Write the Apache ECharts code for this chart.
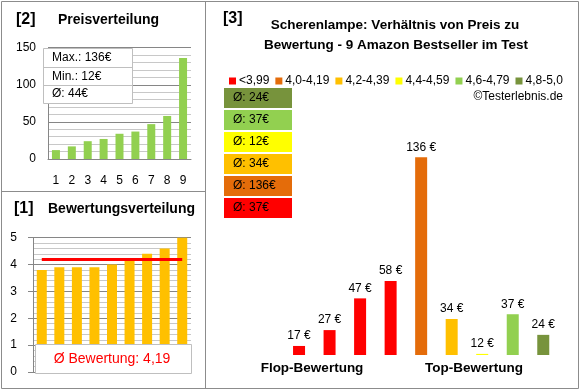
<!DOCTYPE html>
<html><head><meta charset="utf-8">
<script src="https://cdn.jsdelivr.net/npm/echarts@6/dist/echarts.min.js"></script>
<style>html,body{margin:0;padding:0;background:#fff}#c{width:580px;height:390px}</style>
</head><body><div id="c"></div>
<script>
// Panel [2] Preisverteilung
const priceCats = ['1','2','3','4','5','6','7','8','9'];
const priceValues = [12,17,24,27,34,37,47,58,136];
const priceInfo = ['Max.: 136€','Min.: 12€','Ø: 44€'];
// Panel [1] Bewertungsverteilung
const ratingCats = ['1','2','3','4','5','6','7','8','9'];
const ratingValues = [3.8,3.9,3.9,3.9,4.0,4.2,4.4,4.6,5.0];
const ratingAvg = 4.19;
const ratingAvgLabel = 'Ø Bewertung: 4,19';
// Panel [3] Preis zu Bewertung
const mainCats = ['a','b','c','d','e','f','g','h','i'];
const mainValues = [17,27,47,58,136,34,12,37,24];
const mainGroups = [0,0,0,0,1,2,3,4,5];
const groupNames = ['<3,99','4,0-4,19','4,2-4,39','4,4-4,59','4,6-4,79','4,8-5,0'];
const groupColors = ['#FF0000','#E46C0A','#FFC000','#FFFF00','#92D050','#77933C'];
const groupAvgLabels = ['Ø: 37€','Ø: 136€','Ø: 34€','Ø: 12€','Ø: 37€','Ø: 24€'];

const FONT = 'Liberation Sans, Arial, sans-serif';
const chart = echarts.init(document.getElementById('c'));

const graphics = [];
// borders
graphics.push({type:'rect',shape:{x:1.5,y:1.5,width:577,height:387},style:{fill:'none',stroke:'#8c8c8c',lineWidth:1},silent:true});
graphics.push({type:'line',shape:{x1:205.5,y1:1,x2:205.5,y2:389},style:{stroke:'#8c8c8c',lineWidth:1}});
graphics.push({type:'line',shape:{x1:1,y1:191.5,x2:205,y2:191.5},style:{stroke:'#8c8c8c',lineWidth:1}});
// titles
const tstyle = (t,x,y,size)=>({type:'text',x:x,y:y,style:{text:t,font:'bold '+size+'px '+FONT,fill:'#000',textVerticalAlign:'middle'}});
graphics.push(tstyle('[2]',16,20,16));
graphics.push(tstyle('Preisverteilung',58,20,14));
graphics.push(tstyle('[1]',14,209,16));
graphics.push(tstyle('Bewertungsverteilung',48,209,14));
graphics.push(tstyle('[3]',223,19,16));
graphics.push({type:'text',x:395,y:25,style:{text:'Scherenlampe: Verhältnis von Preis zu',font:'bold 13.5px '+FONT,fill:'#000',textAlign:'center',textVerticalAlign:'middle'}});
graphics.push({type:'text',x:396,y:45,style:{text:'Bewertung - 9 Amazon Bestseller im Test',font:'bold 13.5px '+FONT,fill:'#000',textAlign:'center',textVerticalAlign:'middle'}});
graphics.push({type:'text',x:563,y:97,style:{text:'©Testerlebnis.de',font:'12px '+FONT,fill:'#000',textAlign:'right',textVerticalAlign:'middle'}});
graphics.push({type:'text',x:312,y:368,style:{text:'Flop-Bewertung',font:'bold 13.5px '+FONT,fill:'#000',textAlign:'center',textVerticalAlign:'middle'}});
graphics.push({type:'text',x:474,y:368,style:{text:'Top-Bewertung',font:'bold 13.5px '+FONT,fill:'#000',textAlign:'center',textVerticalAlign:'middle'}});
// info box panel 2
graphics.push({type:'rect',z:100,shape:{x:43.5,y:48.5,width:89,height:55},style:{fill:'#fff',stroke:'#bfbfbf',lineWidth:1}});
graphics.push({type:'line',z:101,shape:{x1:43.5,y1:67.5,x2:132.5,y2:67.5},style:{stroke:'#bfbfbf',lineWidth:1}});
graphics.push({type:'line',z:101,shape:{x1:43.5,y1:85.5,x2:132.5,y2:85.5},style:{stroke:'#bfbfbf',lineWidth:1}});
priceInfo.forEach((t,i)=>graphics.push({type:'text',z:102,x:52,y:[58,77,94][i],style:{text:t,font:'12px '+FONT,fill:'#000',textVerticalAlign:'middle'}}));
// rating avg box panel 1
graphics.push({type:'rect',z:100,shape:{x:35.5,y:344.5,width:156,height:29},style:{fill:'#fff',stroke:'#bfbfbf',lineWidth:1}});
graphics.push({type:'text',z:101,x:112,y:359,style:{text:ratingAvgLabel,font:'14px '+FONT,fill:'#FF0000',textAlign:'center',textVerticalAlign:'middle'}});
// group avg boxes panel 3 (top = last group)
for (let k=0;k<6;k++){
  const g = 5-k;
  const y = 88 + k*22;
  graphics.push({type:'rect',shape:{x:224,y:y,width:68,height:20},style:{fill:groupColors[g]}});
  graphics.push({type:'text',x:233,y:y+10,style:{text:groupAvgLabels[g],font:'12px '+FONT,fill:'#000',textVerticalAlign:'middle'}});
}

const legendSeries = groupNames.map((n,i)=>({name:n,type:'bar',xAxisIndex:2,yAxisIndex:2,data:[],itemStyle:{color:groupColors[i]}}));

chart.setOption({
  animation:false,
  textStyle:{fontFamily:FONT},
  legend:{data:groupNames,left:224,top:70,icon:'rect',itemWidth:7,itemHeight:7,itemGap:6,
    textStyle:{fontSize:12,color:'#000',padding:[0,0,0,-2]},selectedMode:false},
  grid:[
    {left:48,right:389,top:47.7,bottom:231},
    {left:33,right:389,top:237.7,bottom:18},
    {left:284.75,right:20.5,top:135,bottom:35}
  ],
  xAxis:[
    {gridIndex:0,type:'category',data:priceCats,axisTick:{show:false},
      axisLine:{lineStyle:{color:'#868686'}},axisLabel:{margin:16,fontSize:12,color:'#000'}},
    {gridIndex:1,type:'category',data:ratingCats,axisTick:{show:false},axisLabel:{show:false},
      axisLine:{lineStyle:{color:'#868686'}}},
    {gridIndex:2,type:'category',data:mainCats,show:false}
  ],
  yAxis:[
    {gridIndex:0,type:'value',min:0,max:150,interval:50,
      axisLine:{show:true,lineStyle:{color:'#868686'}},axisTick:{show:false},
      axisLabel:{fontSize:12,color:'#000',margin:12},
      splitLine:{lineStyle:{color:'#868686'}},
      minorTick:{show:false,splitNumber:5},minorSplitLine:{show:true,lineStyle:{color:'#c8c8c8'}}},
    {gridIndex:1,type:'value',min:0,max:5,interval:1,
      axisLine:{show:true,lineStyle:{color:'#868686'}},axisTick:{show:true,length:5,lineStyle:{color:'#868686'}},
      axisLabel:{fontSize:12,color:'#000',margin:16},
      splitLine:{lineStyle:{color:'#868686'}},
      minorTick:{show:false,splitNumber:5},minorSplitLine:{show:true,lineStyle:{color:'#c8c8c8'}}},
    {gridIndex:2,type:'value',min:11.3,max:150,show:false,splitLine:{show:false}}
  ],
  series:[
    {type:'bar',xAxisIndex:0,yAxisIndex:0,data:priceValues,barWidth:8,itemStyle:{color:'#92D050'}},
    {type:'bar',xAxisIndex:1,yAxisIndex:1,data:ratingValues,barWidth:10,itemStyle:{color:'#FFC000'}},
    {type:'line',xAxisIndex:1,yAxisIndex:1,data:ratingCats.map(()=>ratingAvg),symbol:'none',
      lineStyle:{color:'#FF0000',width:3},z:5},
    {type:'bar',xAxisIndex:2,yAxisIndex:2,barWidth:12,barGap:'-100%',
      data:mainValues.map((v,i)=>({value:v,itemStyle:{color:groupColors[mainGroups[i]]}})),
      label:{show:true,position:'top',distance:4,fontSize:12,color:'#000',formatter:p=>p.value+' €'}},
    ...legendSeries
  ],
  graphic:graphics
});
</script></body></html>
